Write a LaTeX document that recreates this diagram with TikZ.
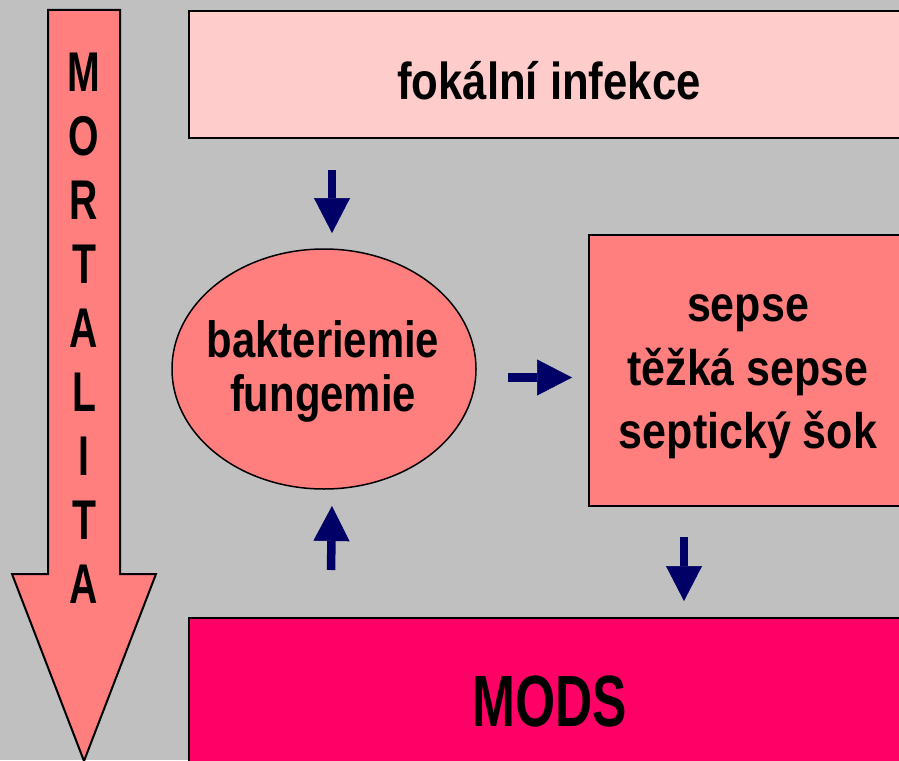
\documentclass[tikz,border=0pt]{standalone}
\usepackage{fontspec}
\setmainfont{Liberation Sans}
\newfontfamily\fA{Liberation Sans}[FakeStretch=0.84]
\newfontfamily\fB{Liberation Sans}[FakeStretch=0.82]
\newfontfamily\fC{Liberation Sans}[FakeStretch=0.86]
\newfontfamily\fD{Liberation Sans}[FakeStretch=0.71]
\newfontfamily\fE{Liberation Sans}[FakeStretch=0.70]
\usetikzlibrary{shapes.geometric,arrows.meta}
\definecolor{bggray}{HTML}{C0C0C0}
\definecolor{pinklight}{HTML}{FFCCCC}
\definecolor{salmon}{HTML}{FF7F7F}
\definecolor{magent}{HTML}{FF0066}
\definecolor{navy}{HTML}{000066}
\tikzset{
  box/.style={draw=black, line width=2pt, rectangle, inner sep=0pt},
  oval/.style={draw=black, line width=1.5pt, ellipse, inner sep=0pt, fill=salmon},
  label text/.style={inner sep=0pt, align=center, text=black},
  blockarrow/.style={draw=navy, line width=8.5pt, line cap=butt,
    -{Triangle[length=35pt,width=36pt,line width=0.5pt]}},
  letter/.style={inner sep=0pt, font=\fE\bfseries\fontsize{56}{60}\selectfont}
}
\begin{document}
\begin{tikzpicture}[x=1pt,y=-1pt]
\useasboundingbox[fill=bggray] (0,0) rectangle (899,760);
\clip (0,0) rectangle (899,760);
% mortality arrow
\draw[line width=2pt, fill=salmon, line join=miter]
  (48,10) -- (120,10) -- (120,574) -- (156,574) -- (84,761) -- (12,574) -- (48,574) -- cycle;
\foreach \l [count=\i from 0] in {M,O,R,T,A,L,I,T,A}
  \node[letter] (m\i) at (84,{72+64*\i}) {\l};
% boxes
\node[box, fill=pinklight, anchor=north west, minimum width=720pt, minimum height=127pt] (fokbox) at (188,10) {};
\node[box, fill=salmon, anchor=north west, minimum width=320pt, minimum height=271pt] (sepbox) at (588,234) {};
\node[box, fill=magent, anchor=north west, minimum width=720pt, minimum height=150pt] (modsbox) at (188,617) {};
\node[oval, minimum width=304pt, minimum height=240pt] (bakt) at (324,369) {};
% texts
\node[label text, font=\fA\bfseries\fontsize{52}{55}\selectfont] (foktxt) at (549,81) {fokální infekce};
\node[label text, font=\fB\bfseries\fontsize{51}{54}\selectfont] (bakttxt) at (323,371) {bakteriemie\\fungemie};
\node[label text, font=\fC\bfseries\fontsize{50}{63.5}\selectfont] (septxt) at (748,377) {sepse\\těžká sepse\\septický šok};
\node[label text, font=\fD\bfseries\fontsize{72.6}{75}\selectfont] (modstxt) at (550,701) {MODS};
% block arrows
\coordinate (a1s) at (332,170); \coordinate (a1e) at (332,233);
\coordinate (a2s) at (508,377.5); \coordinate (a2e) at (572,377.5);
\coordinate (a3s) at (331,570); \coordinate (a3e) at (332,506);
\coordinate (a4s) at (684,537); \coordinate (a4e) at (684,601);
\draw[blockarrow] (a1s) -- (a1e);
\draw[blockarrow] (a2s) -- (a2e);
\draw[blockarrow] (a3s) -- (a3e);
\draw[blockarrow] (a4s) -- (a4e);
\end{tikzpicture}
\end{document}
